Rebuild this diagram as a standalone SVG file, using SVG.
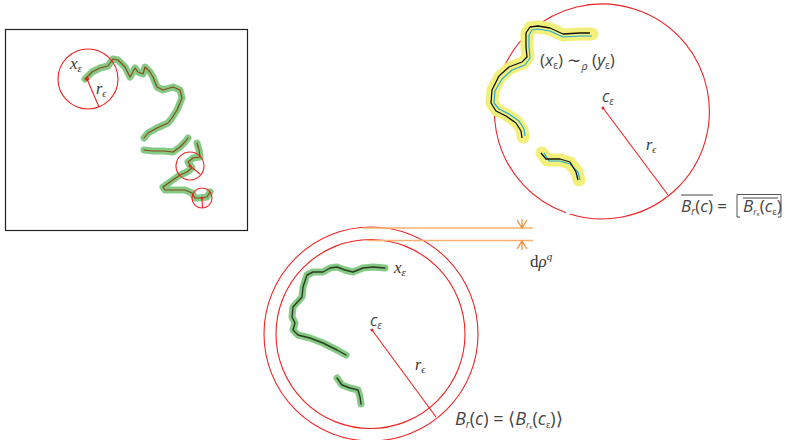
<svg xmlns="http://www.w3.org/2000/svg" width="785" height="440" viewBox="0 0 785 440">
<style>
.red{fill:none;stroke:#ee2222;stroke-width:1.1}
.glow{fill:none;stroke:#6fbf6f;stroke-opacity:0.85;stroke-width:7;stroke-linecap:round;stroke-linejoin:round}
.dark{fill:none;stroke:#2d3b22;stroke-width:1.4;stroke-linecap:round;stroke-linejoin:round}
.brown{fill:none;stroke:#8a4a1a;stroke-width:1.2;stroke-linecap:round;stroke-linejoin:round}
.yel{fill:none;stroke:#f2f07a;stroke-width:13;stroke-linecap:round;stroke-linejoin:round}
.blk{fill:none;stroke:#111;stroke-width:1.3;stroke-linejoin:round}
.cyan{fill:none;stroke:#22aadd;stroke-width:1.2;stroke-linejoin:round}
.or{fill:none;stroke:#f7b070;stroke-width:1.5}
.ora{fill:none;stroke:#f28c30;stroke-width:1.2}
.serif{font-family:"Liberation Serif","DejaVu Serif",serif;font-style:italic;fill:#333}
.sans{font-family:"Open Sans","Noto Sans",sans-serif;fill:#444}
.it{font-style:italic}
.up{font-style:normal}
</style>

<g id="left-panel">
<rect x="5.5" y="29.5" width="242" height="201" fill="none" stroke="#222" stroke-width="1.2"/>
<g id="left-path">
<polyline class="glow" points="85,79 92,72 100,68 108,66 113,59 118,60 125,67 130,77 135,68 138,72 143,74 145,67 150,72 153,77 157,87 163,90 173,87 180,90 182,98 177,110 172,118 168,123 157,128 148,133 144,138"/>
<polyline class="brown" points="85,79 92,72 100,68 108,66 113,59 118,60 125,67 130,77 135,68 138,72 143,74 145,67 150,72 153,77 157,87 163,90 173,87 180,90 182,98 177,110 172,118 168,123 157,128 148,133 144,138"/>
<polyline class="glow" points="144,150 153,151 163,151 173,152 180,147 185,142 188,138"/>
<polyline class="brown" points="144,150 153,151 163,151 173,152 180,147 185,142 188,138"/>
<polyline class="glow" points="197,143 199,150 200,157 193,158 188,162 192,168 187,172 180,175 170,182 163,187 165,190 173,190 185,190 192,193 195,198 200,198 207,197 210,192"/>
<polyline class="brown" points="197,143 199,150 200,157 193,158 188,162 192,168 187,172 180,175 170,182 163,187 165,190 173,190 185,190 192,193 195,198 200,198 207,197 210,192"/>
</g>
<g id="left-balls">
<circle class="red" cx="88" cy="79" r="30"/>
<line class="red" x1="87" y1="79" x2="99" y2="107"/>
<circle cx="87" cy="79" r="2" fill="#ee2222"/>
<circle class="red" cx="190" cy="166" r="14"/>
<line class="red" x1="190" y1="166" x2="200" y2="174"/>
<circle cx="190" cy="166" r="1.5" fill="#ee2222"/>
<circle class="red" cx="202" cy="198" r="10"/>
<line class="red" x1="202" y1="198" x2="202.5" y2="208"/>
<circle cx="202" cy="198" r="1.5" fill="#ee2222"/>
</g>
<text class="serif" x="70" y="69" font-size="17">x<tspan font-size="11" dy="3">ε</tspan></text>
<text class="serif" x="96" y="94" font-size="16">r<tspan font-size="10" dy="3">ϵ</tspan></text>
</g>

<g id="top-ball">
<path class="red" d="M 569.7 214 A 107.5 107.5 0 1 0 566.1 212.8"/>
<line class="red" x1="603" y1="108" x2="668" y2="195"/>
<circle cx="603" cy="108" r="1.5" fill="#ee2222"/>
<g id="top-paths">
<polyline class="yel" points="592,34 580,34 563,35 550,29 538,27 530,28 527,33 527,47 528,57 523,63 510,68 500,77 493,90 492,103 497,110 507,115 517,122 522,130 523,137"/>
<polyline class="yel" points="542,153 547,160 560,160 570,163 577,172 579,180"/>
<polyline class="cyan" points="592,36 580,36 563,37 550,31 538,29 532,30 529,35 529,47 530,58 525,65 512,70 502,79 495,91 494,103 499,109 509,114 519,121 524,129 525,136"/>
<polyline class="cyan" points="544,153 549,161 560,161 570,164 578,172 580,180"/>
<polyline class="blk" points="590,33 580,33 563,34 550,28 538,26 530,27 526,33 526,47 527,57 522,62 509,67 499,76 492,90 491,103 496,111 506,116 516,123 521,131 522,138"/>
<polyline class="blk" points="541,153 546,159 560,159 570,162 576,172 578,180"/>
</g>
<text class="sans" x="540" y="66" font-size="17">(<tspan class="it">x</tspan><tspan font-size="10" dy="3">ε</tspan><tspan dy="-3">) ∼</tspan><tspan class="it" font-size="11" dy="4">ρ</tspan><tspan dy="-4"> (</tspan><tspan class="it">y</tspan><tspan font-size="10" dy="3">ε</tspan><tspan dy="-3">)</tspan></text>
<text class="sans it" x="602" y="102" font-size="16">c<tspan font-size="10" dy="3">ε</tspan></text>
<text class="serif" x="646" y="150" font-size="16">r<tspan font-size="10" dy="3">ϵ</tspan></text>
<g id="top-label">
<text class="sans" x="681" y="212" font-size="17"><tspan class="it">B</tspan><tspan class="it" font-size="10" dy="3">r</tspan><tspan dy="-3">(</tspan><tspan class="it">c</tspan><tspan>) =</tspan></text>
<line x1="681" y1="195" x2="713" y2="195" stroke="#444" stroke-width="1"/>
<path d="M 740 194.5 L 737 194.5 L 737 217 L 740 217 M 778 194.5 L 781 194.5 L 781 217 L 778 217 M 737 194.5 L 781 194.5" fill="none" stroke="#555" stroke-width="1"/>
<line x1="743" y1="198" x2="778" y2="198" stroke="#444" stroke-width="1"/>
<text class="sans" x="743" y="212" font-size="17"><tspan class="it">B</tspan><tspan class="it" font-size="9" dy="3">r</tspan><tspan font-size="6" dy="1">ε</tspan><tspan dy="-4">(</tspan><tspan class="it">c</tspan><tspan font-size="9" dy="3">ε</tspan><tspan dy="-3">)</tspan></text>
</g>
</g>

<g id="bottom-ball">
<circle class="red" cx="371" cy="334" r="107"/>
<circle class="red" cx="370.5" cy="334" r="94.5"/>
<line class="red" x1="372" y1="330" x2="436" y2="417"/>
<circle cx="372" cy="330" r="1.5" fill="#ee2222"/>
<g id="bottom-paths">
<polyline class="glow" points="385,268 373,267 363,268 353,272 345,270 337,267 330,268 323,272 313,272 307,275 303,287 302,297 293,307 292,317 295,323 293,330 298,335 310,338 323,343 337,350 346,355"/>
<polyline class="dark" points="385,268 373,267 363,268 353,272 345,270 337,267 330,268 323,272 313,272 307,275 303,287 302,297 293,307 292,317 295,323 293,330 298,335 310,338 323,343 337,350 346,355"/>
<polyline class="glow" points="337,378 342,385 350,388 358,390 360,397 361,404"/>
<polyline class="dark" points="337,378 342,385 350,388 358,390 360,397 361,404"/>
</g>
<text class="serif" x="394" y="273" font-size="17">x<tspan font-size="11" dy="3">ε</tspan></text>
<text class="sans it" x="370" y="326" font-size="16">c<tspan font-size="10" dy="3">ε</tspan></text>
<text class="serif" x="415" y="370" font-size="16">r<tspan font-size="10" dy="3">ϵ</tspan></text>
<text class="sans" x="455" y="425" font-size="18"><tspan class="it">B</tspan><tspan class="it" font-size="10" dy="3">r</tspan><tspan dy="-3">(</tspan><tspan class="it">c</tspan><tspan>) = ⟨</tspan><tspan class="it">B</tspan><tspan class="it" font-size="9" dy="3">r</tspan><tspan font-size="6" dy="1">ε</tspan><tspan dy="-4">(</tspan><tspan class="it">c</tspan><tspan font-size="9" dy="3">ε</tspan><tspan dy="-3">)⟩</tspan></text>
</g>

<g id="connectors">
<line class="or" x1="363" y1="228" x2="533" y2="228"/>
<line class="or" x1="367" y1="240.5" x2="533" y2="240.5"/>
<path class="ora" d="M 522 219 L 522 228 M 517 220 L 522 228 L 527 220"/>
<path class="ora" d="M 522 250 L 522 241 M 517 249 L 522 241 L 527 249"/>
<text class="serif up" x="530" y="267" font-size="17">d<tspan class="it">ρ</tspan><tspan class="it" font-size="11" dy="-7">q</tspan></text>
</g>
</svg>
